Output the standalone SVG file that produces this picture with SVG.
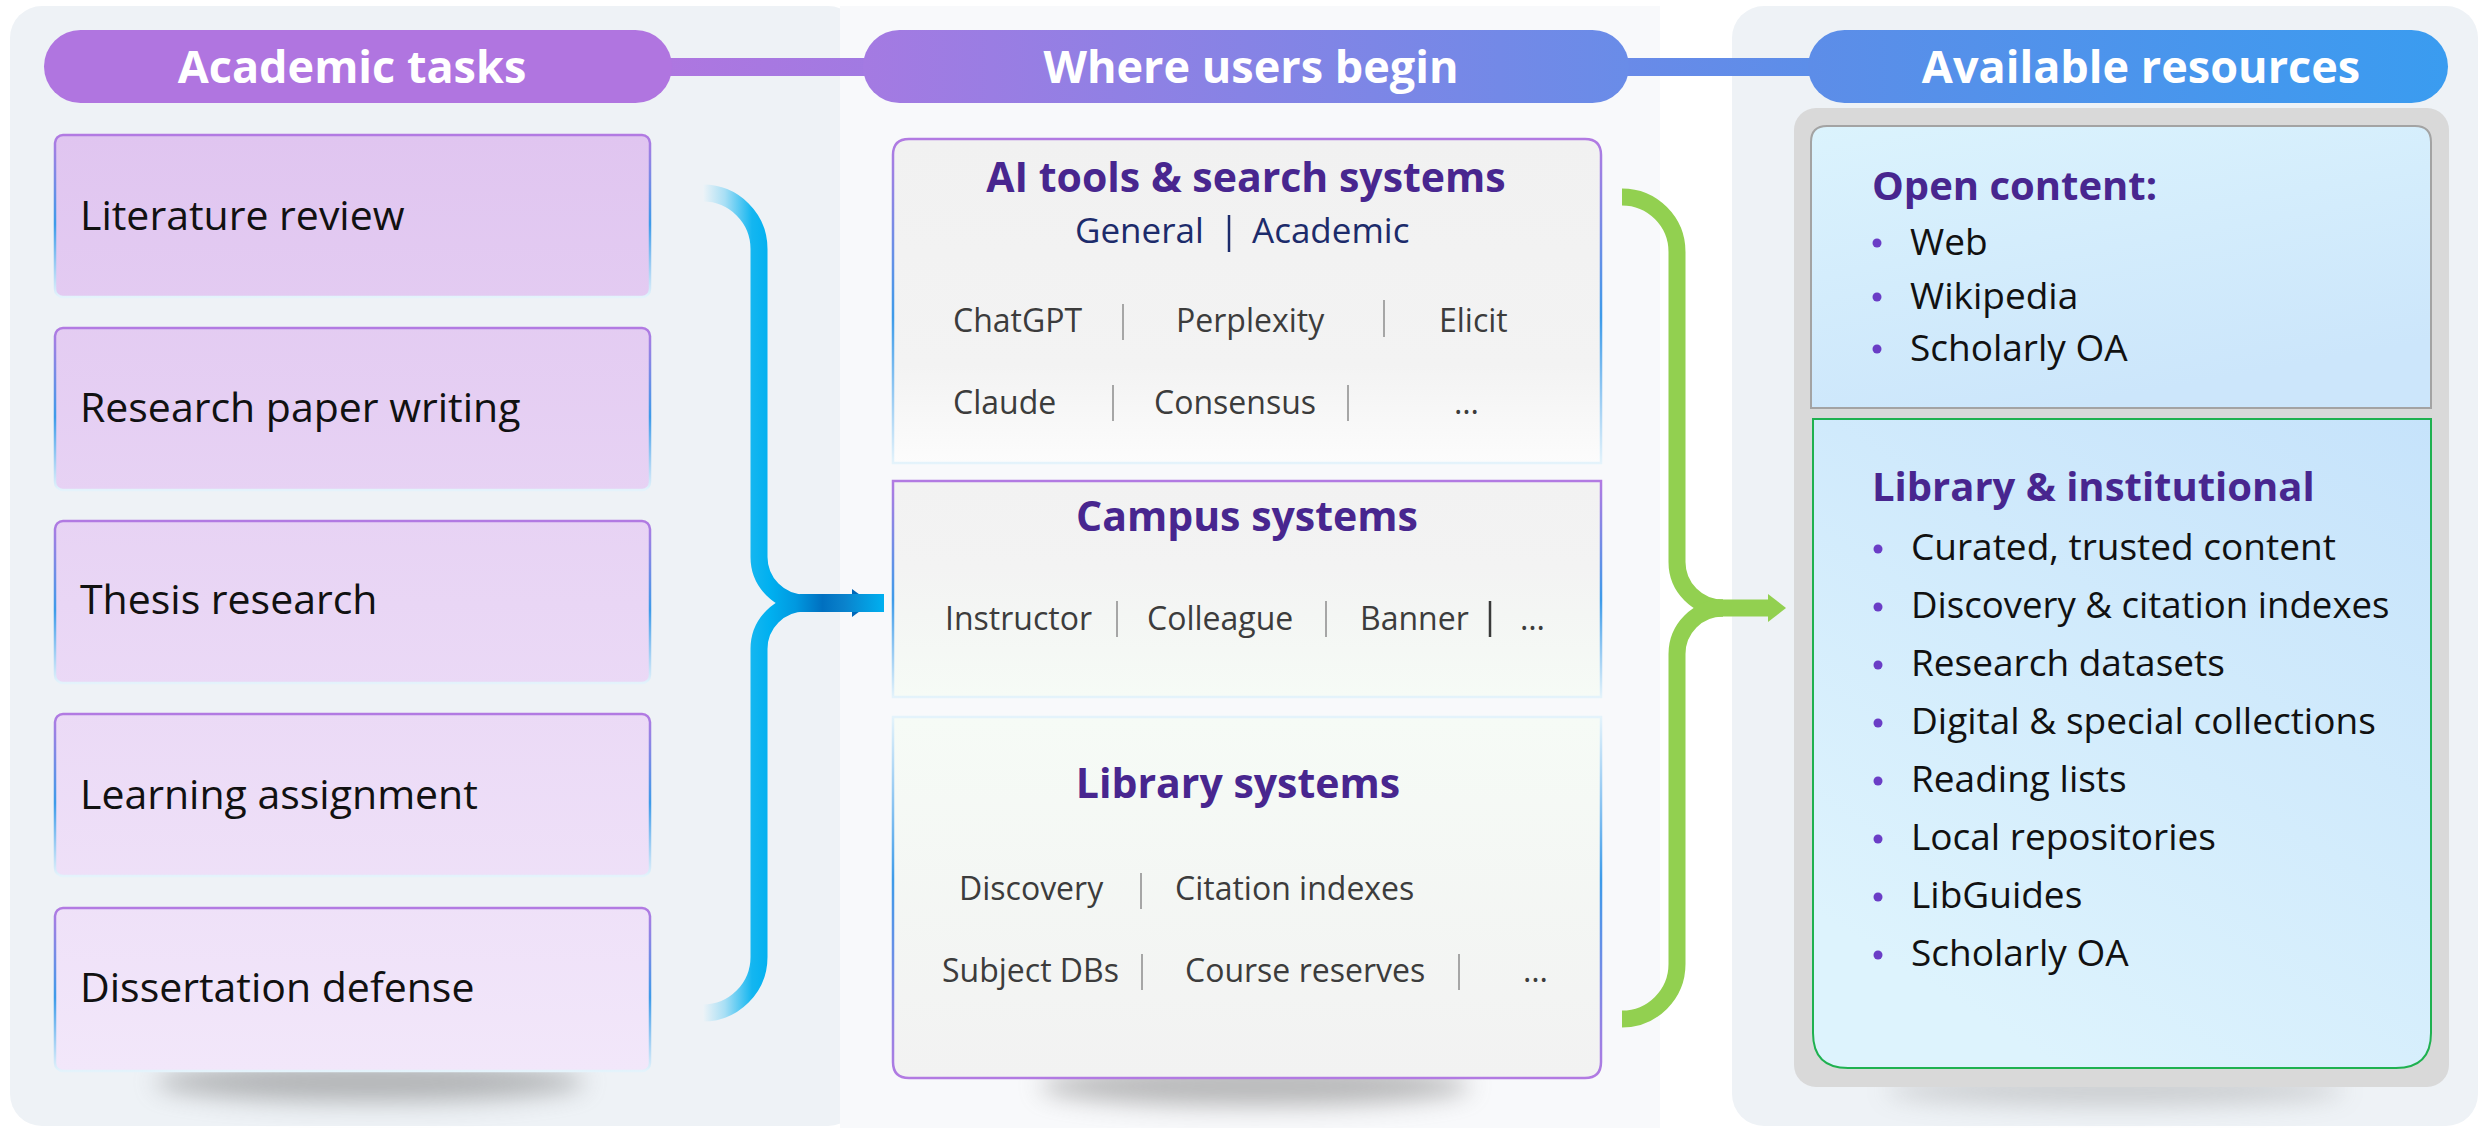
<svg xmlns="http://www.w3.org/2000/svg" width="2484" height="1128" viewBox="0 0 2484 1128">
<defs>
<style>
text{font-family:"Open Sans","Noto Sans",sans-serif}
.hdr{font-weight:700;font-size:45px;fill:#ffffff;text-anchor:middle}
.task{font-size:41px;fill:#111111}
.ttl{font-weight:700;font-size:41px;fill:#48268f;text-anchor:middle}
.sub{font-size:35px;fill:#1c2b6b}
.item{font-size:32px;fill:#3c3c3c}
.sep{stroke:#a6a6a6;stroke-width:2}
.rt{font-weight:700;font-size:40px;fill:#48268f}
.bl{font-size:37px;fill:#111111}
.dot{fill:#6a3dc6}
.tbox{fill:url(#taskFill);stroke:url(#edgeDown);stroke-width:2.5}
</style>
<linearGradient id="taskFill" gradientUnits="userSpaceOnUse" x1="0" y1="135" x2="0" y2="1071">
<stop offset="0" stop-color="#e0c5f0"/><stop offset="1" stop-color="#f2e7fa"/>
</linearGradient>
<linearGradient id="edgeDown" x1="0" y1="0" x2="0" y2="1">
<stop offset="0" stop-color="#b27ae2"/><stop offset="0.55" stop-color="#3d9be9"/><stop offset="1" stop-color="#e4f3fb"/>
</linearGradient>
<linearGradient id="edgeUp" x1="0" y1="0" x2="0" y2="1">
<stop offset="0" stop-color="#e4f3fb"/><stop offset="0.45" stop-color="#3d9be9"/><stop offset="1" stop-color="#b27ae2"/>
</linearGradient>
<linearGradient id="aiFill" x1="0" y1="0" x2="0" y2="1">
<stop offset="0" stop-color="#f1f1f1"/><stop offset="0.7" stop-color="#f3f3f3"/><stop offset="1" stop-color="#fcfcfc"/>
</linearGradient>
<linearGradient id="campFill" x1="0" y1="0" x2="0" y2="1">
<stop offset="0" stop-color="#f2f2f2"/><stop offset="0.4" stop-color="#f3f3f3"/><stop offset="1" stop-color="#f6fbf6"/>
</linearGradient>
<linearGradient id="libFill" x1="0" y1="0" x2="0" y2="1">
<stop offset="0" stop-color="#f6fbf6"/><stop offset="1" stop-color="#f2f2f2"/>
</linearGradient>
<linearGradient id="openFill" x1="0" y1="0" x2="0.4" y2="1">
<stop offset="0" stop-color="#dbf3fd"/><stop offset="1" stop-color="#cce6fb"/>
</linearGradient>
<linearGradient id="instFill" x1="1" y1="0" x2="0.4" y2="1">
<stop offset="0" stop-color="#c6e3fb"/><stop offset="1" stop-color="#ddf3fd"/>
</linearGradient>
<linearGradient id="pill2" x1="0" y1="0" x2="1" y2="0">
<stop offset="0" stop-color="#a47ae2"/><stop offset="1" stop-color="#698ce8"/>
</linearGradient>
<linearGradient id="pill3" x1="0" y1="0" x2="1" y2="0">
<stop offset="0" stop-color="#5d8de8"/><stop offset="1" stop-color="#3a9cf0"/>
</linearGradient>
<linearGradient id="bar1" x1="0" y1="0" x2="1" y2="0">
<stop offset="0" stop-color="#ae76e0"/><stop offset="1" stop-color="#a17ae2"/>
</linearGradient>
<linearGradient id="bar2" x1="0" y1="0" x2="1" y2="0">
<stop offset="0" stop-color="#6a8ae8"/><stop offset="1" stop-color="#5b8ee9"/>
</linearGradient>
<linearGradient id="blueBrace" gradientUnits="userSpaceOnUse" x1="703" y1="0" x2="884" y2="0">
<stop offset="0" stop-color="#eef3f7"/>
<stop offset="0.12" stop-color="#a8dff5"/>
<stop offset="0.27" stop-color="#14b6f0"/>
<stop offset="0.37" stop-color="#00b0f0"/>
<stop offset="0.51" stop-color="#0099e0"/>
<stop offset="0.66" stop-color="#0070c0"/>
<stop offset="0.78" stop-color="#0a82cc"/>
<stop offset="1" stop-color="#00b0f0"/>
</linearGradient>
<filter id="blur" x="-50%" y="-300%" width="200%" height="700%">
<feGaussianBlur stdDeviation="12"/>
</filter>
</defs>

<rect x="0" y="0" width="2484" height="1128" fill="#ffffff"/>

<g id="panels">
<rect x="10" y="6" width="850" height="1120" rx="32" fill="#eef2f6"/>
<rect x="840" y="6" width="820" height="1122" fill="#f8f9fb"/>
<rect x="1732" y="6" width="746" height="1120" rx="32" fill="#eef2f6"/>
</g>

<g id="shadows">
<ellipse cx="370" cy="1082" rx="215" ry="20" fill="#777777" opacity="0.5" filter="url(#blur)"/>
<ellipse cx="1255" cy="1086" rx="215" ry="20" fill="#777777" opacity="0.5" filter="url(#blur)"/>
<ellipse cx="2115" cy="1090" rx="230" ry="16" fill="#888888" opacity="0.35" filter="url(#blur)"/>
</g>

<g id="header-links">
<rect x="660" y="58" width="215" height="18" fill="url(#bar1)"/>
<rect x="1615" y="58" width="205" height="18" fill="url(#bar2)"/>
</g>

<g id="hdr-tasks">
<rect x="44" y="30" width="628" height="73" rx="36.5" fill="#b075e0"/>
<text class="hdr" x="352" y="83">Academic tasks</text>
</g>
<g id="hdr-begin">
<rect x="863" y="30" width="766" height="73" rx="36.5" fill="url(#pill2)"/>
<text class="hdr" x="1251" y="83">Where users begin</text>
</g>
<g id="hdr-resources">
<rect x="1808" y="30" width="640" height="73" rx="36.5" fill="url(#pill3)"/>
<text class="hdr" x="2141" y="83">Available resources</text>
</g>

<g id="task-literature">
<rect class="tbox" x="55" y="135" width="595" height="162" rx="8"/>
<text class="task" x="80" y="230">Literature review</text>
</g>
<g id="task-paper">
<rect class="tbox" x="55" y="328" width="595" height="162" rx="8"/>
<text class="task" x="80" y="422">Research paper writing</text>
</g>
<g id="task-thesis">
<rect class="tbox" x="55" y="521" width="595" height="162" rx="8"/>
<text class="task" x="80" y="614">Thesis research</text>
</g>
<g id="task-learning">
<rect class="tbox" x="55" y="714" width="595" height="162" rx="8"/>
<text class="task" x="80" y="809">Learning assignment</text>
</g>
<g id="task-dissertation">
<rect class="tbox" x="55" y="908" width="595" height="163" rx="8"/>
<text class="task" x="80" y="1002">Dissertation defense</text>
</g>

<g id="ai-tools">
<path d="M893 463 V155 Q893 139 909 139 H1585 Q1601 139 1601 155 V463 Z" fill="url(#aiFill)" stroke="url(#edgeDown)" stroke-width="2.5"/>
<text class="ttl" x="1246" y="192">AI tools &amp; search systems</text>
<text class="sub" x="1075" y="243">General</text>
<line x1="1229" y1="215" x2="1229" y2="252" stroke="#1c2b6b" stroke-width="2.5"/>
<text class="sub" x="1252" y="243">Academic</text>
<text class="item" x="953" y="332">ChatGPT</text>
<line class="sep" x1="1123" y1="304" x2="1123" y2="340"/>
<text class="item" x="1176" y="332">Perplexity</text>
<line class="sep" x1="1384" y1="300" x2="1384" y2="337"/>
<text class="item" x="1439" y="332">Elicit</text>
<text class="item" x="953" y="414">Claude</text>
<line class="sep" x1="1113" y1="385" x2="1113" y2="421"/>
<text class="item" x="1154" y="414">Consensus</text>
<line class="sep" x1="1348" y1="385" x2="1348" y2="421"/>
<text class="item" x="1454" y="414">…</text>
</g>

<g id="campus-systems">
<rect x="893" y="481" width="708" height="216" fill="url(#campFill)" stroke="url(#edgeDown)" stroke-width="2.5"/>
<text class="ttl" x="1247" y="531">Campus systems</text>
<text class="item" x="945" y="630">Instructor</text>
<line class="sep" x1="1117" y1="601" x2="1117" y2="637"/>
<text class="item" x="1147" y="630">Colleague</text>
<line class="sep" x1="1326" y1="601" x2="1326" y2="637"/>
<text class="item" x="1360" y="630">Banner</text>
<line x1="1490" y1="601" x2="1490" y2="637" stroke="#3a3a3a" stroke-width="2.5"/>
<text class="item" x="1520" y="630">…</text>
</g>

<g id="library-systems">
<path d="M893 717 H1601 V1062 Q1601 1078 1585 1078 H909 Q893 1078 893 1062 Z" fill="url(#libFill)" stroke="url(#edgeUp)" stroke-width="2.5"/>
<text class="ttl" x="1238" y="798">Library systems</text>
<text class="item" x="959" y="900">Discovery</text>
<line class="sep" x1="1141" y1="873" x2="1141" y2="909"/>
<text class="item" x="1175" y="900">Citation indexes</text>
<text class="item" x="942" y="982">Subject DBs</text>
<line class="sep" x1="1142" y1="954" x2="1142" y2="990"/>
<text class="item" x="1185" y="982">Course reserves</text>
<line class="sep" x1="1459" y1="954" x2="1459" y2="990"/>
<text class="item" x="1523" y="982">…</text>
</g>

<g id="resources">
<rect x="1794" y="108" width="655" height="979" rx="22" fill="#d9d9d9"/>
</g>

<g id="open-content">
<path d="M1811 408 V142 Q1811 126 1827 126 H2415 Q2431 126 2431 142 V408 Z" fill="url(#openFill)" stroke="#a3a3a3" stroke-width="2"/>
<text class="rt" x="1872" y="200">Open content:</text>
<circle class="dot" cx="1877" cy="243" r="4.5"/>
<text class="bl" x="1910" y="255">Web</text>
<circle class="dot" cx="1877" cy="297" r="4.5"/>
<text class="bl" x="1910" y="309">Wikipedia</text>
<circle class="dot" cx="1877" cy="349" r="4.5"/>
<text class="bl" x="1910" y="361">Scholarly OA</text>
</g>

<g id="library-institutional">
<path d="M1813 419 H2431 V1033 Q2431 1068 2396 1068 H1848 Q1813 1068 1813 1033 Z" fill="url(#instFill)" stroke="#1fb150" stroke-width="2"/>
<text class="rt" x="1872" y="501">Library &amp; institutional</text>
<circle class="dot" cx="1878" cy="549" r="4.5"/>
<text class="bl" x="1911" y="560">Curated, trusted content</text>
<circle class="dot" cx="1878" cy="607" r="4.5"/>
<text class="bl" x="1911" y="618" style="font-size:36.6px">Discovery &amp; citation indexes</text>
<circle class="dot" cx="1878" cy="665" r="4.5"/>
<text class="bl" x="1911" y="676">Research datasets</text>
<circle class="dot" cx="1878" cy="723" r="4.5"/>
<text class="bl" x="1911" y="734">Digital &amp; special collections</text>
<circle class="dot" cx="1878" cy="781" r="4.5"/>
<text class="bl" x="1911" y="792">Reading lists</text>
<circle class="dot" cx="1878" cy="839" r="4.5"/>
<text class="bl" x="1911" y="850">Local repositories</text>
<circle class="dot" cx="1878" cy="897" r="4.5"/>
<text class="bl" x="1911" y="908">LibGuides</text>
<circle class="dot" cx="1878" cy="955" r="4.5"/>
<text class="bl" x="1911" y="966">Scholarly OA</text>
</g>

<g id="connectors">
<g id="tasks-to-begin">
<polygon points="852,589 871,603 852,617" fill="#0068b8"/>
<path d="M703 193 A56 56 0 0 1 759 249 L759 557 A46 46 0 0 0 805 603" fill="none" stroke="url(#blueBrace)" stroke-width="17"/>
<path d="M703 1013 A56 56 0 0 0 759 957 L759 649 A46 46 0 0 1 805 603" fill="none" stroke="url(#blueBrace)" stroke-width="17"/>
<path d="M800 603 H884" fill="none" stroke="url(#blueBrace)" stroke-width="18"/>
</g>
<g id="begin-to-resources">
<path d="M1622 197 A55 55 0 0 1 1677 252 L1677 562 A46 46 0 0 0 1723 608" fill="none" stroke="#92d050" stroke-width="17"/>
<path d="M1622 1019 A55 55 0 0 0 1677 964 L1677 654 A46 46 0 0 1 1723 608" fill="none" stroke="#92d050" stroke-width="17"/>
<path d="M1718 608 H1772" fill="none" stroke="#92d050" stroke-width="17"/>
<polygon points="1768,594 1786,608 1768,622" fill="#92d050"/>
</g>
</g>
</svg>
